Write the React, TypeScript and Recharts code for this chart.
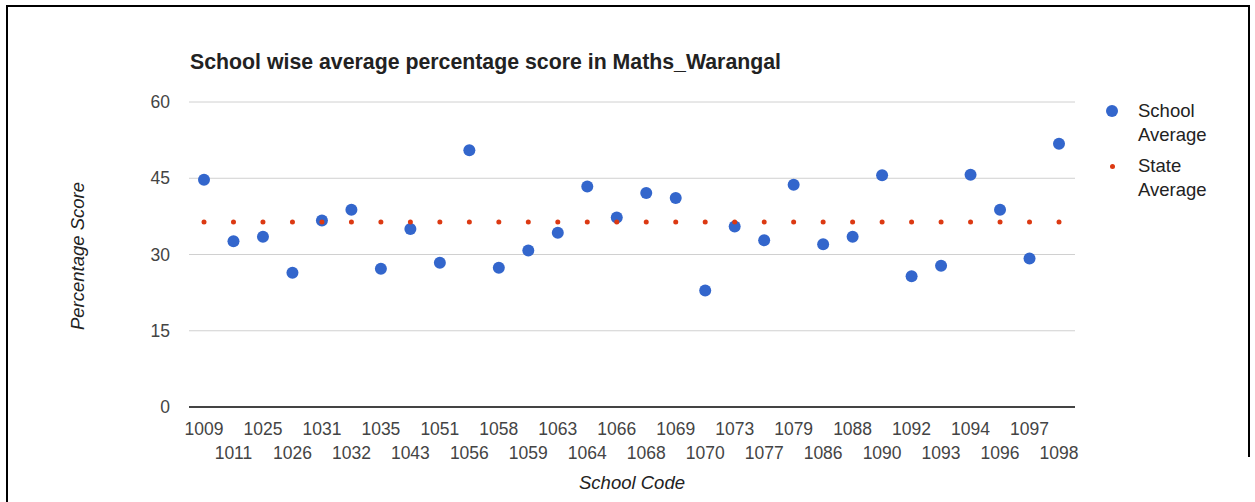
import { LineChart, Line, XAxis, YAxis, CartesianGrid } from 'recharts';

const schoolCodes = [
  '1009', '1011', '1025', '1026', '1031', '1032', '1035', '1043', '1051', '1056',
  '1058', '1059', '1063', '1064', '1066', '1068', '1069', '1070', '1073', '1077',
  '1079', '1086', '1088', '1090', '1092', '1093', '1094', '1096', '1097', '1098',
];

const schoolAverage = [
  44.7, 32.6, 33.5, 26.4, 36.7, 38.8, 27.2, 35.0, 28.4, 50.5,
  27.4, 30.8, 34.3, 43.4, 37.3, 42.1, 41.1, 22.9, 35.5, 32.8,
  43.7, 32.0, 33.5, 45.6, 25.7, 27.8, 45.7, 38.8, 29.2, 51.8,
];

const stateAverage = [
  36.4, 36.4, 36.4, 36.4, 36.4, 36.4, 36.4, 36.4, 36.4, 36.4,
  36.4, 36.4, 36.4, 36.4, 36.4, 36.4, 36.4, 36.4, 36.4, 36.4,
  36.4, 36.4, 36.4, 36.4, 36.4, 36.4, 36.4, 36.4, 36.4, 36.4,
];

const yTicks = [0, 15, 30, 45, 60];

const FONT = '"Liberation Sans", Arial, sans-serif';
const BLUE = '#3366cc';
const RED = '#dc3912';

const data = schoolCodes.map((code, i) => ({
  code,
  school: schoolAverage[i],
  state: stateAverage[i],
}));

// labels alternate between two rows, like the google chart
function StaggeredTick(props: any) {
  const { x, y, payload, index } = props;
  const dy = index % 2 === 0 ? 28 : 52;
  return (
    <text x={x} y={y + dy} textAnchor="middle" fill="#444" fontSize={17.5} fontFamily={FONT}>
      {payload.value}
    </text>
  );
}

export default function App() {
  return (
    <div
      style={{
        position: 'absolute',
        left: 0,
        top: 0,
        width: 1255,
        height: 502,
        overflow: 'hidden',
        background: '#fff',
        fontFamily: FONT,
      }}
    >
      <div
        style={{
          position: 'absolute',
          left: 6,
          top: 5,
          width: 1240,
          height: 450,
          borderTop: '2px solid #000',
          borderLeft: '2px solid #000',
          borderRight: '2px solid #000',
        }}
      />
      <div
        style={{
          position: 'absolute',
          left: 6,
          top: 455,
          width: 2,
          height: 60,
          background: '#000',
        }}
      />
      <div
        style={{
          position: 'absolute',
          left: 190,
          top: 50,
          fontSize: 21.3,
          lineHeight: '24px',
          fontWeight: 'bold',
          color: '#222',
          whiteSpace: 'nowrap',
        }}
      >
        School wise average percentage score in Maths_Warangal
      </div>

      <LineChart
        width={1255}
        height={502}
        data={data}
        margin={{ top: 102, right: 180, bottom: 35, left: 150 }}
        style={{ position: 'absolute', left: 0, top: 0 }}
      >
        <CartesianGrid vertical={false} stroke="#d0d0d0" />
        <XAxis
          dataKey="code"
          interval={0}
          height={60}
          padding={{ left: 15, right: 16 }}
          tickLine={false}
          tickSize={0}
          tickMargin={0}
          axisLine={{ stroke: '#444', strokeWidth: 2 }}
          tick={<StaggeredTick />}
        />
        <YAxis
          width={39}
          domain={[0, 60]}
          ticks={yTicks}
          axisLine={false}
          tickLine={false}
          tickSize={0}
          tickMargin={19}
          tick={{ fill: '#444', fontSize: 17.5, fontFamily: FONT }}
        />
        <Line
          dataKey="school"
          stroke="none"
          isAnimationActive={false}
          dot={{ r: 6, fill: BLUE, stroke: 'none' }}
          activeDot={false}
        />
        <Line
          dataKey="state"
          stroke="none"
          isAnimationActive={false}
          dot={{ r: 2.5, fill: RED, stroke: 'none' }}
          activeDot={false}
        />
      </LineChart>

      <div
        style={{
          position: 'absolute',
          left: 78,
          top: 256,
          transform: 'translate(-50%, -50%) rotate(-90deg)',
          fontSize: 18.5,
          fontStyle: 'italic',
          color: '#222',
          whiteSpace: 'nowrap',
        }}
      >
        Percentage Score
      </div>
      <div
        style={{
          position: 'absolute',
          left: 632,
          top: 483,
          transform: 'translate(-50%, -50%)',
          fontSize: 18.5,
          fontStyle: 'italic',
          color: '#222',
          whiteSpace: 'nowrap',
        }}
      >
        School Code
      </div>

      {/* legend */}
      <div style={{ position: 'absolute', left: 1106, top: 105, width: 12, height: 12, borderRadius: 6, background: BLUE }} />
      <div style={{ position: 'absolute', left: 1138, top: 99, fontSize: 18.5, lineHeight: '24px', color: '#222' }}>
        School
        <br />
        Average
      </div>
      <div style={{ position: 'absolute', left: 1109.5, top: 163.5, width: 5, height: 5, borderRadius: 2.5, background: RED }} />
      <div style={{ position: 'absolute', left: 1138, top: 154, fontSize: 18.5, lineHeight: '24px', color: '#222' }}>
        State
        <br />
        Average
      </div>
    </div>
  );
}
